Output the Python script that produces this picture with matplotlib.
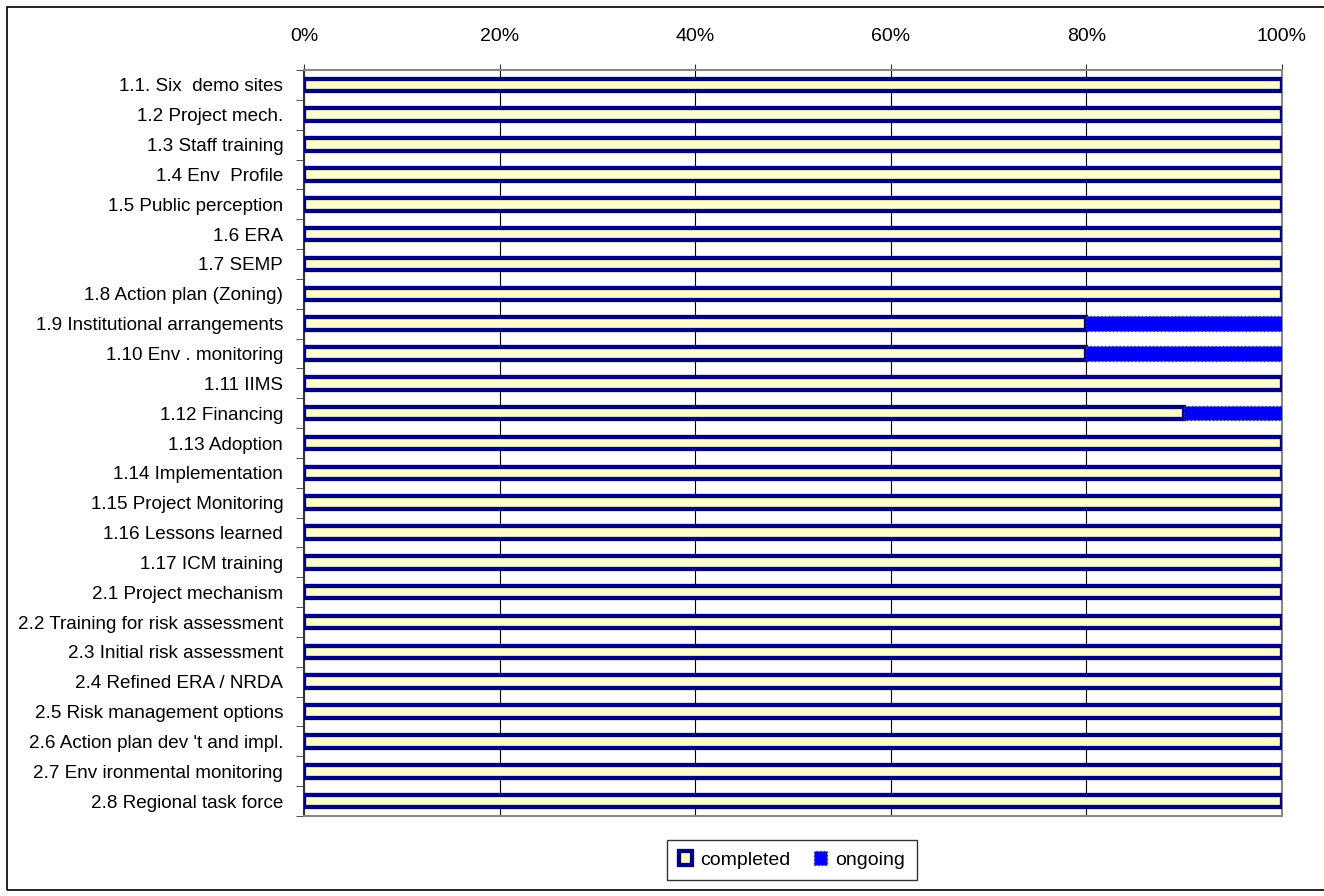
import numpy as np
import matplotlib.pyplot as plt
from matplotlib.patches import Rectangle

tasks = [
    "1.1. Six  demo sites", "1.2 Project mech.", "1.3 Staff training", "1.4 Env  Profile",
    "1.5 Public perception", "1.6 ERA", "1.7 SEMP", "1.8 Action plan (Zoning)",
    "1.9 Institutional arrangements", "1.10 Env . monitoring", "1.11 IIMS",
    "1.12 Financing", "1.13 Adoption", "1.14 Implementation", "1.15 Project Monitoring",
    "1.16 Lessons learned", "1.17 ICM training", "2.1 Project mechanism",
    "2.2 Training for risk assessment", "2.3 Initial risk assessment",
    "2.4 Refined ERA / NRDA", "2.5 Risk management options",
    "2.6 Action plan dev 't and impl.", "2.7 Env ironmental monitoring",
    "2.8 Regional task force",
]
completed = [100, 100, 100, 100, 100, 100, 100, 100, 80, 80, 100, 90, 100,
             100, 100, 100, 100, 100, 100, 100, 100, 100, 100, 100, 100]
ongoing = [100 - c for c in completed]
x_ticks = [0, 20, 40, 60, 80, 100]

W, H = 1324, 896
plt.rcParams['font.family'] = ['Liberation Sans Narrow', 'Liberation Sans', 'DejaVu Sans']
fig = plt.figure(figsize=(W / 100, H / 100), dpi=100)
ax = fig.add_axes([304 / W, 1 - 816 / H, (1282 - 304) / W, (816 - 70) / H])

y = np.arange(len(tasks))
ax.barh(y, completed, height=0.42, color="#FFFFCC", edgecolor="#000080",
        linewidth=3.1, label="completed", zorder=3)
ax.barh(y, ongoing, left=completed, height=0.48, color="#0000FF",
        edgecolor="#444444", linewidth=1.0, linestyle=":", label="ongoing", zorder=3)

ax.set_xlim(0, 100)
ax.set_ylim(len(tasks) - 0.5, -0.5)
ax.set_xticks(x_ticks)
ax.set_xticklabels([f"{t}%" for t in x_ticks], fontsize=14)
ax.xaxis.tick_top()
ax.tick_params(axis="x", length=4, pad=14, color="#333333")
ax.set_yticks(y)
ax.set_yticklabels(tasks, fontsize=13.6)
ax.set_yticks(np.arange(len(tasks) + 1) - 0.5, minor=True)
ax.tick_params(axis="y", which="major", length=0, pad=15)
ax.tick_params(axis="y", which="minor", length=6, direction="out", color="#333333")
ax.grid(axis="x", color="black", linewidth=0.8, zorder=0)
ax.set_axisbelow(True)
for side in ["top", "right", "bottom"]:
    ax.spines[side].set_color("#888888")
    ax.spines[side].set_linewidth(1.5)
ax.spines["left"].set_color("#333333")
ax.spines["left"].set_linewidth(1.5)

leg = fig.legend(loc="center", bbox_to_anchor=(792 / W, 1 - 860 / H), ncol=2,
                 fontsize=14, frameon=True, fancybox=False, handlelength=0.7,
                 handleheight=0.7, handletextpad=0.4, columnspacing=1.2,
                 borderpad=0.6, borderaxespad=0)
leg.get_frame().set_edgecolor("black")
leg.get_frame().set_linewidth(1.0)

fig.patches.append(Rectangle((7 / W, 1 - 890 / H), 1.0, (890 - 7) / H,
                             transform=fig.transFigure, fill=False,
                             edgecolor="black", linewidth=1.2))

fig.savefig("out.png", dpi=100)
